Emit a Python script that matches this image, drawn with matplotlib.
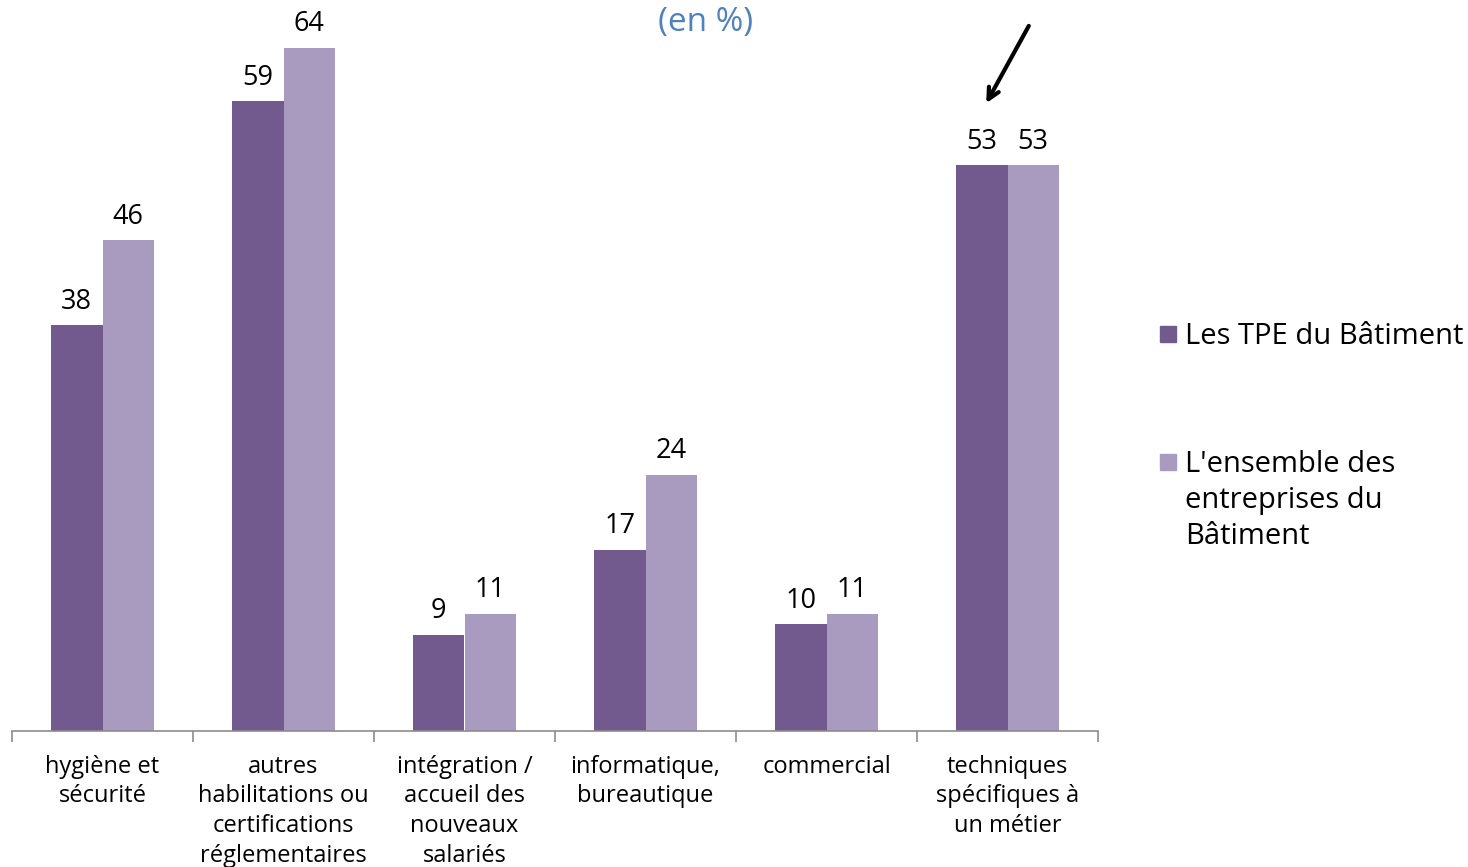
import numpy as np
import matplotlib.pyplot as plt
from matplotlib.patches import Rectangle

plt.rcParams['font.family'] = ['Open Sans', 'DejaVu Sans']

categories = ['hygiène et\nsécurité', 'autres\nhabilitations ou\ncertifications\nréglementaires',
              'intégration /\naccueil des\nnouveaux\nsalariés', 'informatique,\nbureautique',
              'commercial', 'techniques\nspécifiques à\nun métier']
tpe = [38, 59, 9, 17, 10, 53]
ensemble = [46, 64, 11, 24, 11, 53]
series_names = ['Les TPE du Bâtiment', "L'ensemble des\nentreprises du\nBâtiment"]

dark = '#735A8E'
light = '#A99ABF'

W, H = 1468, 867
fig = plt.figure(figsize=(W / 100, H / 100), dpi=100)
ax = fig.add_axes([12 / W, (H - 731) / H, 1086 / W, 731 / H])

x = np.arange(len(categories))
bw = 0.285
b1 = ax.bar(x - bw / 2, tpe, bw, color=dark)
b2 = ax.bar(x + bw / 2, ensemble, bw, color=light)

for bars, vals in ((b1, tpe), (b2, ensemble)):
    for r, v in zip(bars, vals):
        ax.text(r.get_x() + r.get_width() / 2, v + 0.9, str(v), ha='center', va='bottom',
                fontsize=19.5, color='black')

ax.set_xlim(-0.5, 5.5)
ax.set_ylim(0, 68.5)
ax.set_yticks([])
for s in ('top', 'right', 'left'):
    ax.spines[s].set_visible(False)
ax.spines['bottom'].set_color('#8C8C8C')
ax.spines['bottom'].set_linewidth(1.2)

ax.set_xticks(x)
ax.set_xticklabels(categories, fontsize=17, linespacing=1.32)
ax.tick_params(axis='x', which='major', length=0, pad=17)
ax.set_xticks(np.arange(-0.5, 6, 1), minor=True)
ax.tick_params(axis='x', which='minor', length=8, color='#8C8C8C', width=1.2)

fig.text(706 / W, 1 - 22 / H, '(en %)', ha='center', va='center', fontsize=24, color='#4F81BD')

# arrow pointing at the last pair of bars
ax.annotate('', xy=(4.875, 58.6), xytext=(5.125, 66.3),
            arrowprops=dict(arrowstyle='->,head_length=0.8,head_width=0.4', color='black', lw=3))

# legend drawn by hand
for name, col, ty in zip(series_names, [dark, light], [334, 462]):
    fig.add_artist(Rectangle((1160 / W, 1 - (ty + 8) / H), 16 / W, 16 / H,
                             transform=fig.transFigure, color=col))
    fig.text(1185 / W, 1 - (ty - 12) / H, name, ha='left', va='top', fontsize=21,
             linespacing=1.31)

fig.savefig('out.png', dpi=100)
